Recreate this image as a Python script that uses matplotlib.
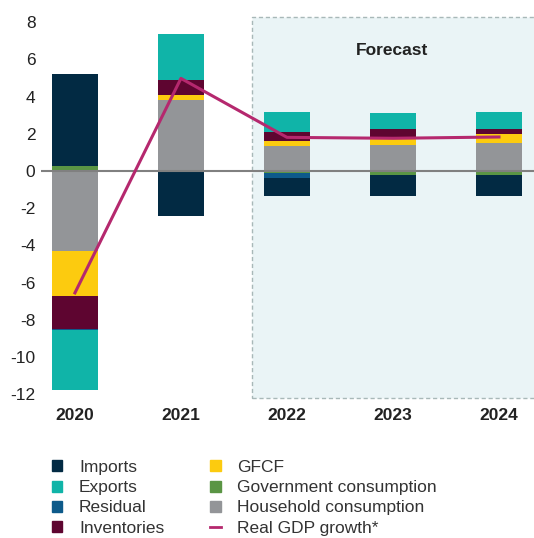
import matplotlib
matplotlib.use("Agg")
import matplotlib.pyplot as plt
from matplotlib.patches import Rectangle, Patch
from matplotlib.lines import Line2D
import numpy as np

plt.rcParams['font.family'] = ['Liberation Sans', 'DejaVu Sans']

years = ["2020", "2021", "2022", "2023", "2024"]
# stacked components (positive stack order from zero upward / negative from zero downward)
household = [-4.28, 3.82, 1.36, 1.40, 1.50]
gov_cons = [0.27, 0.0, -0.10, -0.22, -0.22]
gfcf = [-2.42, 0.26, 0.25, 0.34, 0.50]
inventories = [-1.80, 0.82, 0.50, 0.52, 0.26]
residual = [-0.05, 0.0, -0.26, 0.0, 0.0]
exports = [-3.20, 2.47, 1.06, 0.88, 0.91]
imports = [4.93, -2.40, -0.98, -1.12, -1.12]
gdp = [-6.55, 4.98, 1.81, 1.76, 1.83]

series = [
    ("Household consumption", household, "#939598"),
    ("Government consumption", gov_cons, "#5a9544"),
    ("GFCF", gfcf, "#fccb0f"),
    ("Inventories", inventories, "#5e0530"),
    ("Residual", residual, "#0d5a8a"),
    ("Exports", exports, "#10b4a8"),
    ("Imports", imports, "#022a43"),
]

fig = plt.figure(figsize=(5.34, 5.38), dpi=100)
ax = fig.add_axes([41/534, 1 - 398/538, 1 - 41/534, 381/538])

x = np.arange(len(years))
width = 0.44
ylo, yhi = -12.2, 8.28
ax.set_xlim(-0.32, 4.33)
ax.set_ylim(ylo, yhi)

# forecast shading
ax.add_patch(Rectangle((1.67, ylo), 4.33 - 1.67 + 0.05, yhi - ylo, facecolor="#eaf4f6",
                       edgecolor="#a8b8b8", linestyle=(0, (3, 2)), linewidth=1.0,
                       zorder=0, clip_on=False))
ax.text(2.99, 6.5, "Forecast", ha="center", va="center", fontsize=12.5,
        fontweight="bold", color="#222222")

pos_base = np.zeros(len(years))
neg_base = np.zeros(len(years))
for name, vals, col in series:
    v = np.array(vals)
    bottoms = np.where(v >= 0, pos_base, neg_base)
    ax.bar(x, v, width, bottom=bottoms, color=col, zorder=2, linewidth=0)
    pos_base = pos_base + np.where(v >= 0, v, 0)
    neg_base = neg_base + np.where(v < 0, v, 0)

ax.axhline(0, color="#808080", linewidth=1.5, zorder=3)
ax.plot(x, gdp, color="#b5286e", linewidth=2.2, zorder=4)

for s in ax.spines.values():
    s.set_visible(False)
ax.tick_params(length=0)
ax.set_yticks(np.arange(-12, 9, 2))
ax.set_yticklabels([str(t) for t in range(-12, 9, 2)], fontsize=12.5, color="#222222")
ax.tick_params(axis="y", pad=4)
ax.set_xticks(x)
ax.set_xticklabels(years, fontsize=12.5, fontweight="bold", color="#222222")
ax.tick_params(axis="x", pad=7)

handles = [
    Patch(color="#022a43", label="Imports"),
    Patch(color="#10b4a8", label="Exports"),
    Patch(color="#0d5a8a", label="Residual"),
    Patch(color="#5e0530", label="Inventories"),
    Patch(color="#fccb0f", label="GFCF"),
    Patch(color="#5a9544", label="Government consumption"),
    Patch(color="#939598", label="Household consumption"),
    Line2D([0], [0], color="#b5286e", linewidth=2, label="Real GDP growth*"),
]
leg = fig.legend(handles=handles, ncol=2, loc="upper left",
                 bbox_to_anchor=(52/534, 1 - 460/538), frameon=False,
                 fontsize=12.5, handlelength=0.6, handleheight=0.6,
                 handletextpad=0.95, columnspacing=2.65, labelspacing=0.3,
                 borderaxespad=0, borderpad=0)
for t in leg.get_texts():
    t.set_color("#333333")

fig.savefig("out.png", dpi=100)
